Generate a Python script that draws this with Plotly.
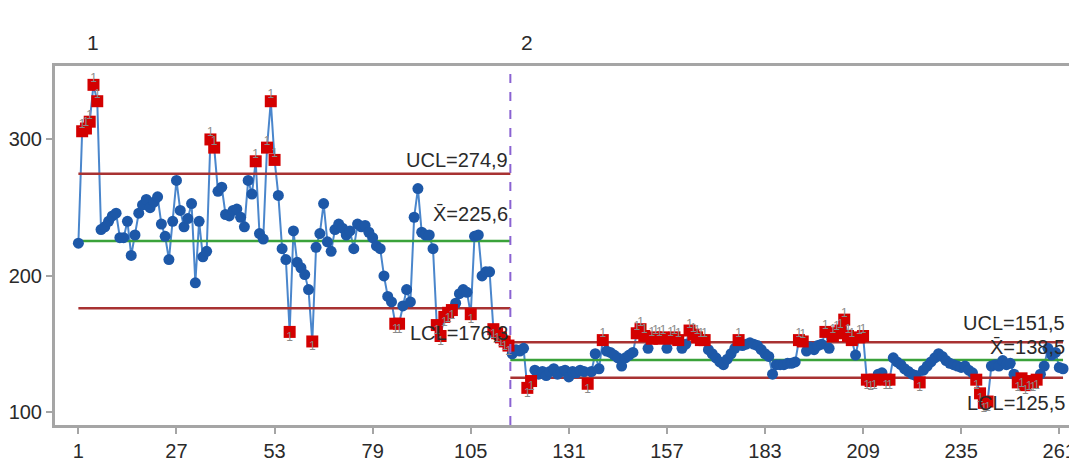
import plotly.graph_objects as go

# ---------------- data ----------------
stage1_values = [
    224, 306, 308, 313, 340, 328, 234, 236, 240, 244,
    246, 228, 228, 240, 215, 230, 246, 252, 256, 250,
    254, 258, 238, 229, 212, 240, 270, 248, 236, 242,
    253, 195, 240, 214, 218, 300, 294, 262, 265, 245,
    244, 248, 249, 243, 236, 270, 260, 284, 231, 227,
    294, 328, 285, 259, 220, 212, 159, 233, 210, 206,
    201, 190, 152, 221, 231, 253, 225, 218, 234, 238,
    235, 230, 233, 220, 238, 236, 237, 232, 228, 222,
    220, 200, 185, 181, 165, 165, 178, 190, 181, 243,
    264, 232, 230, 230, 220, 164, 156, 170, 173, 175,
    180, 187, 190, 188, 172, 229, 230, 200, 203, 203,
    161, 158, 155, 152, 149,
]
stage2_values = [
    143, 146, 145, 147, 118, 123, 131, 128, 130, 127,
    130, 132, 128, 130, 131, 126, 130, 129, 131, 130,
    121, 130, 143, 132, 153, 145, 144, 142, 140, 134,
    140, 142, 144, 158, 161, 156, 147, 154, 155, 154,
    155, 147, 154, 155, 153, 147, 150, 160, 157, 155,
    153, 153, 146, 143, 140, 137, 135, 139, 143, 147,
    153, 149, 150, 151, 150, 149, 146, 143, 141, 128,
    135, 135, 135, 136, 136, 137, 153, 152, 145, 148,
    146, 149, 150, 159, 147, 156, 158, 160, 168, 156,
    153, 142, 155, 156, 124, 123, 124, 128, 129, 124,
    124, 140, 137, 135, 132, 130, 128, 127, 122, 131,
    134, 137, 140, 143, 141, 138, 136, 135, 134, 133,
    134, 131, 129, 124, 114, 107, 108, 134, 135, 134,
    138, 135, 136, 128, 122, 125, 120, 123, 122, 124,
    128, 134, 147, 142, 144, 133, 132,
]
stage_names = ["1", "2"]
stage_ucl = [274.9, 151.5]
stage_mean = [225.6, 138.5]
stage_lcl = [176.3, 125.5]
x_ticks = [1, 27, 53, 79, 105, 131, 157, 183, 209, 235, 261]
y_ticks = [100, 200, 300]

# ---------------- styling ----------------
FONT = "Liberation Sans, Arial, sans-serif"
BLUE_LINE = "#4a86cc"
BLUE_DOT = "#1d58a8"
RED = "#d30000"
LIMIT = "#a83232"
MEAN = "#3aa23a"
DIVIDER = "#8a63d2"
AXIS = "#a5a5a5"
TEXT = "#2a2a2a"

stages = [stage1_values, stage2_values]
xs, ys, ucl, lcl = [], [], [], []
bounds = []
start = 1
for k, vals in enumerate(stages):
    idx = list(range(start, start + len(vals)))
    bounds.append((start, start + len(vals) - 1))
    xs += idx
    ys += vals
    ucl += [stage_ucl[k]] * len(vals)
    lcl += [stage_lcl[k]] * len(vals)
    start += len(vals)

fig = go.Figure()

fig.add_trace(go.Scatter(x=xs, y=ys, mode="lines",
                         line=dict(color=BLUE_LINE, width=2), hoverinfo="skip",
                         showlegend=False))

for k, (a, b) in enumerate(bounds):
    left = a if k == 0 else a - 0.5
    right = b + 0.5 if k < len(bounds) - 1 else b
    for val, col in ((stage_ucl[k], LIMIT), (stage_lcl[k], LIMIT), (stage_mean[k], MEAN)):
        fig.add_trace(go.Scatter(x=[left, right], y=[val, val], mode="lines",
                                 line=dict(color=col, width=2.5), hoverinfo="skip",
                                 showlegend=False))

inside = [l <= y <= u for y, u, l in zip(ys, ucl, lcl)]
high = [y > u for y, u in zip(ys, ucl)]
low = [y < l for y, l in zip(ys, lcl)]

fig.add_trace(go.Scatter(x=[x for x, f in zip(xs, inside) if f],
                         y=[y for y, f in zip(ys, inside) if f], mode="markers",
                         marker=dict(color=BLUE_DOT, size=11, symbol="circle"),
                         showlegend=False))
fig.add_trace(go.Scatter(x=[x for x, f in zip(xs, inside) if not f],
                         y=[y for y, f in zip(ys, inside) if not f], mode="markers",
                         marker=dict(color=RED, size=12, symbol="square"),
                         showlegend=False))

# test failure labels ("1") next to every flagged point
for flags, pos in ((high, "top center"), (low, "bottom center")):
    fx = [x for x, f in zip(xs, flags) if f]
    fy = [y for y, f in zip(ys, flags) if f]
    fig.add_trace(go.Scatter(x=fx, y=fy, mode="text", text=["1"] * len(fx),
                             textposition=pos,
                             textfont=dict(family=FONT, size=12, color="#8a8a8a"),
                             hoverinfo="skip", showlegend=False))

for k in range(1, len(bounds)):
    xd = bounds[k][0] - 0.5
    fig.add_shape(type="line", xref="x", yref="paper", x0=xd, x1=xd, y0=0, y1=1,
                  line=dict(color=DIVIDER, width=2, dash="dash"))

for k, (a, b) in enumerate(bounds):
    fig.add_annotation(x=a + 4, y=1.0, xref="x", yref="paper", yanchor="bottom",
                       yshift=10, text=stage_names[k], showarrow=False,
                       font=dict(family=FONT, size=21, color=TEXT))

def fmt(v):
    return f"{v:.1f}".replace(".", ",")

for k, (a, b) in enumerate(bounds):
    right = b + 0.5 if k < len(bounds) - 1 else b + 1
    fig.add_annotation(x=right, y=stage_ucl[k], xref="x", yref="y", xanchor="right",
                       yanchor="bottom", yshift=1 if k == 0 else 6,
                       text=f"UCL={fmt(stage_ucl[k])}", showarrow=False,
                       font=dict(family=FONT, size=20, color=TEXT))
    fig.add_annotation(x=right, y=stage_mean[k], xref="x", yref="y", xanchor="right",
                       yanchor="bottom", yshift=14 if k == 0 else 0,
                       text=f"X\u0304={fmt(stage_mean[k])}", showarrow=False,
                       font=dict(family=FONT, size=20, color=TEXT))
    fig.add_annotation(x=right, y=stage_lcl[k], xref="x", yref="y", xanchor="right",
                       yanchor="top", yshift=-12,
                       text=f"LCL={fmt(stage_lcl[k])}", showarrow=False,
                       font=dict(family=FONT, size=20, color=TEXT))

# the page body has an 8px margin, so the figure is sized to the visible area
fig.update_layout(
    width=1069, height=464,
    margin=dict(l=47, r=0, t=58, b=47),
    paper_bgcolor="white", plot_bgcolor="white",
    font=dict(family=FONT, size=20, color=TEXT),
    xaxis=dict(range=[-5.2, 265.7], tickvals=x_ticks, ticktext=[str(t) for t in x_ticks],
               automargin=False,
               showgrid=False, zeroline=False, showline=True, mirror=True,
               linecolor=AXIS, linewidth=3, ticks="outside", ticklen=6,
               tickcolor=AXIS, tickwidth=1.5, tickfont=dict(family=FONT, size=20, color=TEXT)),
    yaxis=dict(range=[90.8, 353.8], tickvals=y_ticks, showgrid=False, zeroline=False,
               automargin=False,
               showline=True, linecolor=AXIS, linewidth=3, ticks="outside", ticklen=6,
               tickcolor=AXIS, tickwidth=1.5, tickfont=dict(family=FONT, size=20, color=TEXT)),
)

fig.write_html("out.html")
